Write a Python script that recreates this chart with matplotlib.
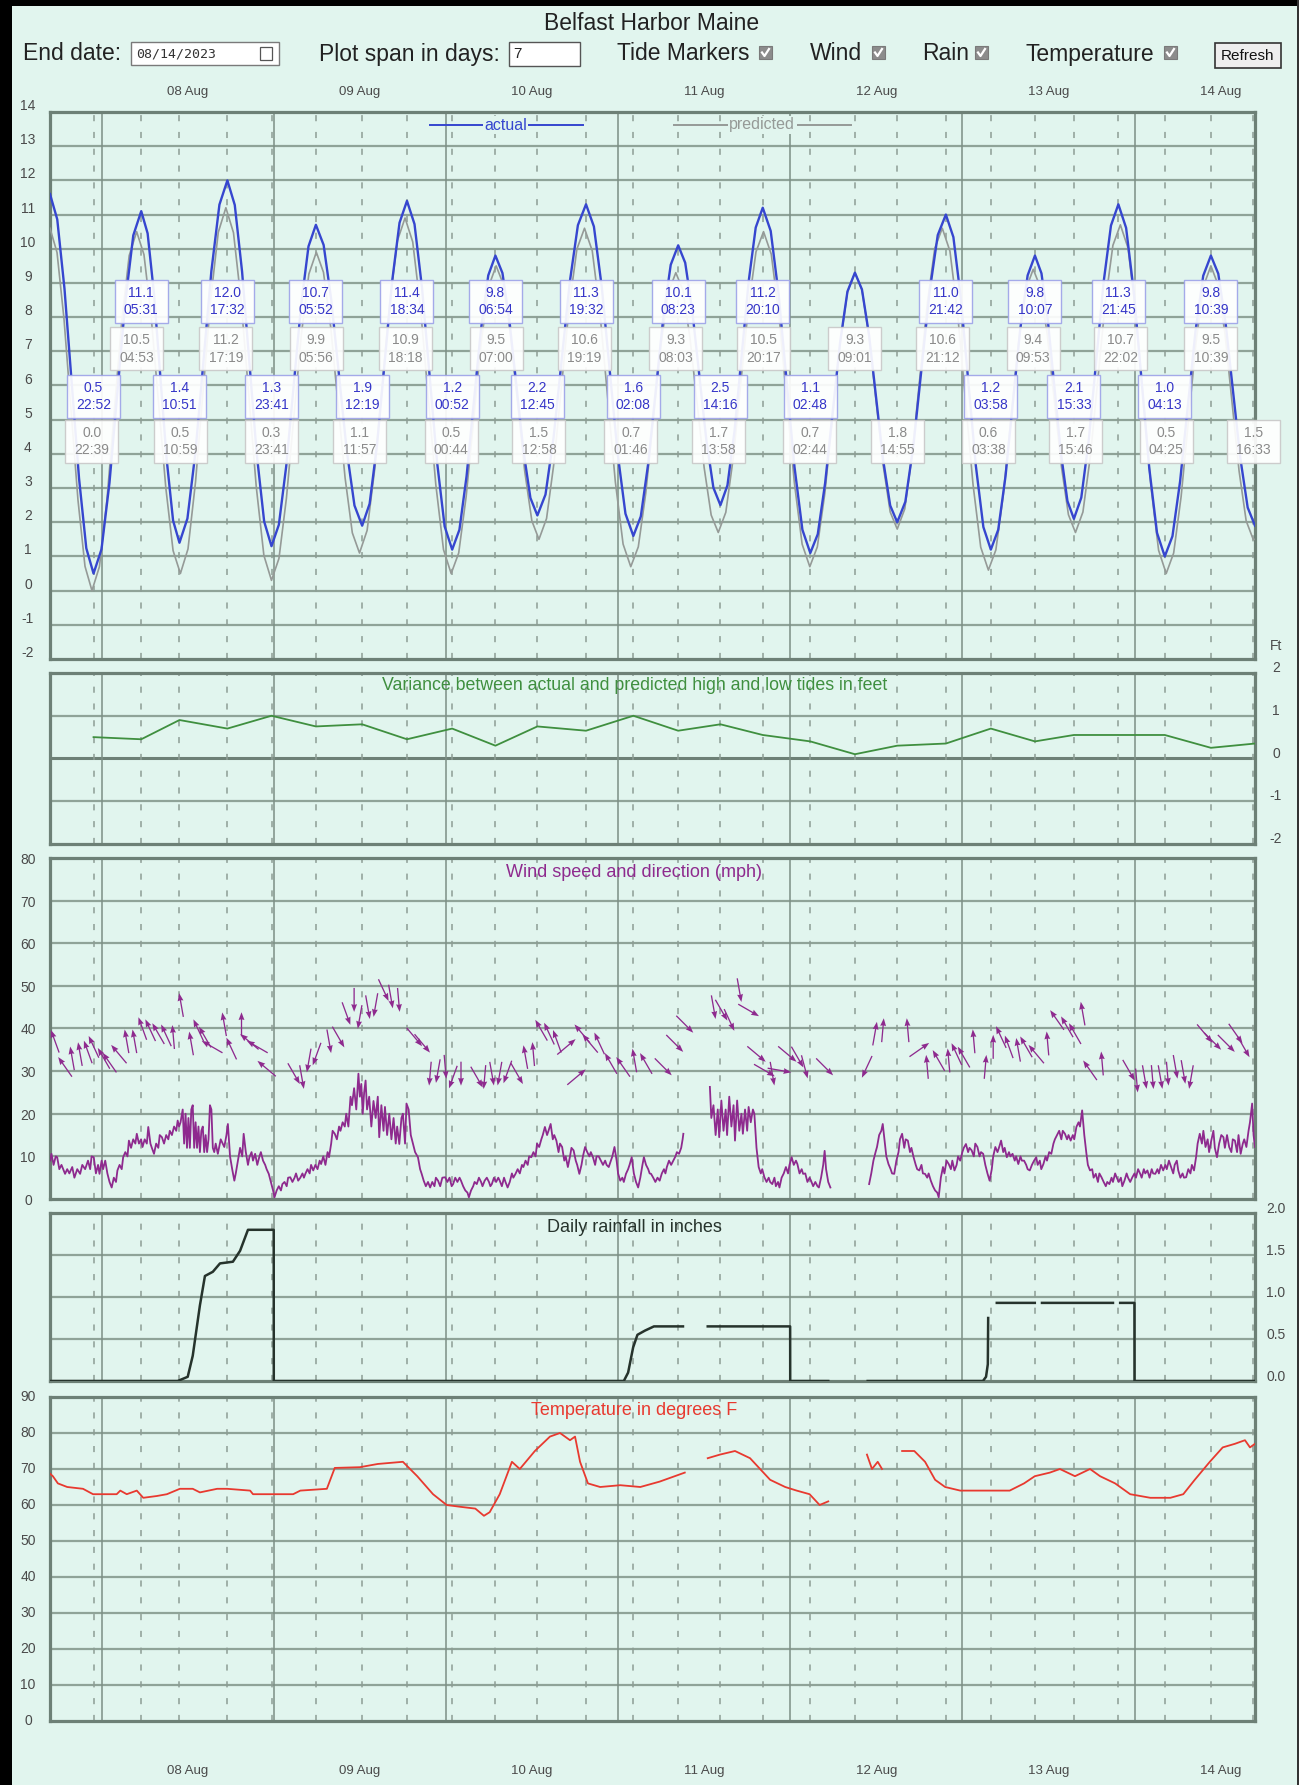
import numpy as np
import matplotlib
matplotlib.use('Agg')
import matplotlib.pyplot as plt
from matplotlib.patches import Rectangle
from matplotlib.lines import Line2D
from matplotlib import transforms

plt.rcParams['font.family'] = ['Liberation Sans', 'DejaVu Sans']

# ---- time axis: hours since 07 Aug 2023 00:00 ----
T0, T1 = 16.8, 184.8
date_labels = ['08 Aug', '09 Aug', '10 Aug', '11 Aug', '12 Aug', '13 Aug', '14 Aug']
date_days = [8, 9, 10, 11, 12, 13, 14]

# ---- tide extremes shown in the marker boxes ----
hi_act_val = [11.1, 12.0, 10.7, 11.4, 9.8, 11.3, 10.1, 11.2, 11.0, 9.8, 11.3, 9.8]
hi_act_time = ['05:31', '17:32', '05:52', '18:34', '06:54', '19:32', '08:23', '20:10', '21:42', '10:07', '21:45', '10:39']
hi_act_day = [8, 8, 9, 9, 10, 10, 11, 11, 12, 13, 13, 14]

lo_act_val = [0.5, 1.4, 1.3, 1.9, 1.2, 2.2, 1.6, 2.5, 1.1, 1.2, 2.1, 1.0]
lo_act_time = ['22:52', '10:51', '23:41', '12:19', '00:52', '12:45', '02:08', '14:16', '02:48', '03:58', '15:33', '04:13']
lo_act_day = [7, 8, 8, 9, 10, 10, 11, 11, 12, 13, 13, 14]

hi_pred_val = [10.5, 11.2, 9.9, 10.9, 9.5, 10.6, 9.3, 10.5, 9.3, 10.6, 9.4, 10.7, 9.5]
hi_pred_time = ['04:53', '17:19', '05:56', '18:18', '07:00', '19:19', '08:03', '20:17', '09:01', '21:12', '09:53', '22:02', '10:39']
hi_pred_day = [8, 8, 9, 9, 10, 10, 11, 11, 12, 12, 13, 13, 14]

lo_pred_val = [0.0, 0.5, 0.3, 1.1, 0.5, 1.5, 0.7, 1.7, 0.7, 1.8, 0.6, 1.7, 0.5, 1.5]
lo_pred_time = ['22:39', '10:59', '23:41', '11:57', '00:44', '12:58', '01:46', '13:58', '02:44', '14:55', '03:38', '15:46', '04:25', '16:33']
lo_pred_day = [7, 8, 8, 9, 10, 10, 11, 11, 12, 12, 13, 13, 14, 14]

# ---- tide water level (ft) ----
tide_act_t = [16.80, 17.81, 18.82, 19.84, 20.85, 21.86,
              22.87, 23.98, 25.09, 26.20, 27.30, 28.41,
              29.52, 30.41, 31.30, 32.19, 33.07, 33.96,
              34.85, 35.96, 37.08, 38.19, 39.30, 40.42,
              41.53, 42.56, 43.58, 44.61, 45.63, 46.66,
              47.68, 48.71, 49.74, 50.78, 51.81, 52.84,
              53.87, 54.95, 56.02, 57.10, 58.17, 59.25,
              60.32, 61.36, 62.40, 63.45, 64.49, 65.53,
              66.57, 67.62, 68.67, 69.72, 70.77, 71.82,
              72.87, 73.88, 74.88, 75.89, 76.89, 77.90,
              78.90, 79.88, 80.85, 81.83, 82.80, 83.78,
              84.75, 85.88, 87.01, 88.14, 89.27, 90.40,
              91.53, 92.63, 93.73, 94.83, 95.93, 97.03,
              98.13, 99.17, 100.21, 101.26, 102.30, 103.34,
              104.38, 105.36, 106.34, 107.32, 108.31, 109.29,
              110.27, 111.25, 112.24, 113.22, 114.20, 115.19,
              116.17, 117.28, 118.38, 119.49, 120.59, 121.70,
              122.80, 123.84, 124.87, 125.91, 126.95, 127.98,
              129.02, 130.00, 130.99, 131.97, 132.95, 133.94,
              134.92, 136.05, 137.18, 138.31, 139.44, 140.57,
              141.70, 142.75, 143.79, 144.84, 145.88, 146.93,
              147.97, 149.00, 150.02, 151.05, 152.07, 153.10,
              154.12, 155.03, 155.93, 156.84, 157.74, 158.65,
              159.55, 160.58, 161.62, 162.65, 163.68, 164.72,
              165.75, 166.83, 167.91, 168.99, 170.06, 171.14,
              172.22, 173.29, 174.36, 175.44, 176.51, 177.58,
              178.65, 179.68, 180.70, 181.73, 182.75, 183.78, 184.80]
tide_act_v = [11.6, 10.86, 8.83, 6.05, 3.28, 1.24,
              0.5, 1.21, 3.15, 5.8, 8.45, 10.39,
              11.1, 10.45, 8.68, 6.25, 3.83, 2.05,
              1.4, 2.11, 4.05, 6.7, 9.35, 11.29,
              12.0, 11.28, 9.33, 6.65, 3.98, 2.02,
              1.3, 1.93, 3.65, 6.0, 8.35, 10.07,
              10.7, 10.11, 8.5, 6.3, 4.1, 2.49,
              1.9, 2.54, 4.28, 6.65, 9.03, 10.76,
              11.4, 10.72, 8.85, 6.3, 3.75, 1.88,
              1.2, 1.78, 3.35, 5.5, 7.65, 9.22,
              9.8, 9.29, 7.9, 6.0, 4.1, 2.71,
              2.2, 2.81, 4.48, 6.75, 9.03, 10.69,
              11.3, 10.65, 8.88, 6.45, 4.03, 2.25,
              1.6, 2.17, 3.73, 5.85, 7.98, 9.53,
              10.1, 9.59, 8.2, 6.3, 4.4, 3.01,
              2.5, 3.08, 4.68, 6.85, 9.03, 10.62,
              11.2, 10.52, 8.68, 6.15, 3.63, 1.78,
              1.1, 1.65, 3.15, 5.2, 7.25, 8.75,
              9.3, 8.81, 7.48, 5.65, 3.83, 2.49,
              2.0, 2.6, 4.25, 6.5, 8.75, 10.4,
              11.0, 10.34, 8.55, 6.1, 3.65, 1.86,
              1.2, 1.78, 3.35, 5.5, 7.65, 9.22,
              9.8, 9.28, 7.88, 5.95, 4.03, 2.62,
              2.1, 2.72, 4.4, 6.7, 9.0, 10.68,
              11.3, 10.61, 8.73, 6.15, 3.58, 1.69,
              1.0, 1.59, 3.2, 5.4, 7.6, 9.21,
              9.8, 9.27, 7.83, 5.85, 3.88, 2.43, 1.9]

tide_pred_t = [16.80, 17.78, 18.75, 19.73, 20.70, 21.68,
               22.65, 23.69, 24.73, 25.77, 26.80, 27.84,
               28.88, 29.90, 30.91, 31.93, 32.95, 33.96,
               34.98, 36.04, 37.09, 38.15, 39.21, 40.26,
               41.32, 42.38, 43.44, 44.50, 45.56, 46.62,
               47.68, 48.72, 49.76, 50.81, 51.85, 52.89,
               53.93, 54.93, 55.94, 56.94, 57.94, 58.95,
               59.95, 61.01, 62.07, 63.13, 64.18, 65.24,
               66.30, 67.37, 68.44, 69.52, 70.59, 71.66,
               72.73, 73.78, 74.82, 75.87, 76.91, 77.96,
               79.00, 80.00, 80.99, 81.99, 82.98, 83.98,
               84.97, 86.03, 87.09, 88.15, 89.20, 90.26,
               91.32, 92.40, 93.47, 94.55, 95.62, 96.70,
               97.77, 98.82, 99.86, 100.91, 101.96, 103.00,
               104.05, 105.04, 106.02, 107.01, 108.00, 108.98,
               109.97, 111.02, 112.07, 113.13, 114.18, 115.23,
               116.28, 117.36, 118.43, 119.51, 120.58, 121.66,
               122.73, 123.78, 124.83, 125.88, 126.92, 127.97,
               129.02, 130.00, 130.99, 131.97, 132.95, 133.94,
               134.92, 135.97, 137.01, 138.06, 139.11, 140.15,
               141.20, 142.27, 143.34, 144.42, 145.49, 146.56,
               147.63, 148.67, 149.71, 150.76, 151.80, 152.84,
               153.88, 154.86, 155.84, 156.83, 157.81, 158.79,
               159.77, 160.81, 161.86, 162.90, 163.94, 164.99,
               166.03, 167.10, 168.16, 169.23, 170.29, 171.36,
               172.42, 173.46, 174.50, 175.54, 176.57, 177.61,
               178.65, 179.63, 180.62, 181.60, 182.58, 183.57, 184.55, 184.80]
tide_pred_v = [10.6, 9.89, 7.95, 5.3, 2.65, 0.71,
               0.0, 0.7, 2.63, 5.25, 7.88, 9.8,
               10.5, 9.83, 8.0, 5.5, 3.0, 1.17,
               0.5, 1.22, 3.18, 5.85, 8.53, 10.48,
               11.2, 10.47, 8.48, 5.75, 3.03, 1.03,
               0.3, 0.94, 2.7, 5.1, 7.5, 9.26,
               9.9, 9.31, 7.7, 5.5, 3.3, 1.69,
               1.1, 1.76, 3.55, 6.0, 8.45, 10.24,
               10.9, 10.2, 8.3, 5.7, 3.1, 1.2,
               0.5, 1.1, 2.75, 5.0, 7.25, 8.9,
               9.5, 8.96, 7.5, 5.5, 3.5, 2.04,
               1.5, 2.11, 3.78, 6.05, 8.33, 9.99,
               10.6, 9.94, 8.13, 5.65, 3.18, 1.36,
               0.7, 1.28, 2.85, 5.0, 7.15, 8.72,
               9.3, 8.79, 7.4, 5.5, 3.6, 2.21,
               1.7, 2.29, 3.9, 6.1, 8.3, 9.91,
               10.5, 9.84, 8.05, 5.6, 3.15, 1.36,
               0.7, 1.28, 2.85, 5.0, 7.15, 8.72,
               9.3, 8.8, 7.43, 5.55, 3.68, 2.3,
               1.8, 2.39, 4.0, 6.2, 8.4, 10.01,
               10.6, 9.93, 8.1, 5.6, 3.1, 1.27,
               0.6, 1.19, 2.8, 5.0, 7.2, 8.81,
               9.4, 8.88, 7.48, 5.55, 3.63, 2.22,
               1.7, 2.3, 3.95, 6.2, 8.45, 10.1,
               10.7, 10.02, 8.15, 5.6, 3.05, 1.18,
               0.5, 1.1, 2.75, 5.0, 7.25, 8.9,
               9.5, 8.96, 7.5, 5.5, 3.5, 2.04, 1.5, 1.5]

# ---- variance between actual and predicted extremes (ft) ----
var_t = [22.87, 29.52, 34.85, 41.53, 47.68, 53.87, 60.32, 66.57, 72.87, 78.90,
         84.75, 91.53, 98.13, 104.38, 110.27, 116.17, 122.80, 129.02, 134.92,
         141.70, 147.97, 154.12, 159.55, 165.75, 172.22, 178.65, 184.80]
var_v = [0.5, 0.45, 0.9, 0.7, 1.0, 0.75, 0.8, 0.45, 0.7, 0.3,
         0.75, 0.65, 1.0, 0.65, 0.8, 0.55, 0.4, 0.1, 0.3,
         0.35, 0.7, 0.4, 0.55, 0.55, 0.55, 0.25, 0.35]

# ---- wind speed (mph) as (hour, mph); nan marks missing data ----
wind_obs = [
    (16.8, 9), (17.0, 10.6), (17.3, 8), (17.6, 10), (17.8, 9.8), (18.1, 7), (18.4, 8), (18.9, 5.9),
    (19.2, 7), (19.5, 6), (19.9, 7.5), (20.2, 5), (20.6, 7), (21.0, 5.9), (21.3, 8), (21.7, 7),
    (22.1, 9.0), (22.4, 7), (22.6, 10), (22.9, 9.8), (23.2, 6), (23.5, 8), (23.7, 5.9), (24.0, 9),
    (24.2, 7), (24.5, 9.0), (24.8, 6), (25.1, 4), (25.4, 2.7), (25.7, 5), (26.0, 4), (26.2, 6.7),
    (26.5, 8), (26.8, 7), (27.0, 9.8), (27.3, 11), (27.6, 10), (27.8, 13.7), (28.1, 12), (28.4, 14),
    (28.7, 13), (28.9, 15.3), (29.2, 13), (29.5, 14), (29.7, 12.2), (30.0, 14), (30.3, 13), (30.5, 16.9),
    (30.8, 13), (31.0, 12), (31.3, 10.6), (31.6, 13), (31.9, 12), (32.1, 15), (32.4, 14.5), (32.7, 13),
    (33.0, 15), (33.3, 14), (33.5, 16.0), (33.8, 15), (34.1, 17), (34.4, 16), (34.6, 18.4), (34.8, 17),
    (35.0, 18), (35.3, 21), (35.5, 13), (35.7, 20), (35.9, 12), (36.1, 19), (36.3, 12), (36.5, 21),
    (36.7, 22), (36.9, 12), (37.1, 18), (37.3, 12), (37.5, 17), (37.7, 11), (37.9, 16), (38.1, 17),
    (38.3, 11), (38.5, 15), (38.7, 11), (38.9, 14), (39.1, 22), (39.3, 21), (39.5, 12), (39.7, 11),
    (39.9, 13), (40.2, 10.6), (40.6, 14), (41.1, 12.2), (41.4, 15), (41.6, 17.6), (41.9, 10), (42.2, 7),
    (42.5, 4.3), (42.7, 6), (43.0, 9), (43.3, 12), (43.6, 10), (43.8, 15.3), (44.1, 11), (44.4, 8),
    (44.6, 9.8), (44.9, 11), (45.1, 9), (45.4, 10.6), (45.7, 8), (46.0, 10), (46.2, 11), (46.5, 9.0),
    (46.8, 8), (47.0, 7), (47.3, 5.9), (47.6, 4), (47.9, 2), (48.1, 0.4), (48.4, 2), (48.7, 3),
    (49.0, 2), (49.2, 3.5), (49.5, 4), (49.8, 3), (50.0, 5), (50.3, 5.1), (50.6, 4), (50.9, 5),
    (51.1, 6), (51.4, 4.3), (51.7, 5), (52.0, 6), (52.2, 5), (52.4, 5.9), (52.7, 7), (53.0, 6),
    (53.2, 8), (53.5, 6.7), (53.8, 8), (54.1, 7), (54.4, 9), (54.6, 8.2), (54.9, 10), (55.2, 8),
    (55.5, 11), (55.7, 9.8), (56.0, 13), (56.2, 16), (56.5, 15.3), (56.8, 14), (57.1, 17), (57.3, 16.0),
    (57.6, 18), (57.9, 17), (58.1, 20), (58.4, 17), (58.7, 24), (58.9, 22), (59.2, 26), (59.5, 21),
    (59.8, 29.4), (60.0, 24), (60.2, 27), (60.4, 20), (60.6, 25), (60.8, 27.8), (61.0, 21), (61.3, 24),
    (61.6, 17), (61.9, 23), (62.2, 19), (62.5, 24), (62.7, 14.5), (63.0, 22), (63.3, 16), (63.5, 21.6),
    (63.8, 15), (64.1, 20), (64.4, 14), (64.7, 19), (65.0, 13), (65.2, 17), (65.5, 12.9), (65.8, 19),
    (66.0, 20), (66.3, 13), (66.5, 22.4), (66.8, 21), (67.1, 15), (67.3, 13.7), (67.7, 11), (68.1, 9.8),
    (68.4, 7), (68.6, 6), (68.9, 4.3), (69.2, 3), (69.5, 4), (69.8, 2.7), (70.1, 4), (70.4, 3),
    (70.6, 5), (70.9, 4.3), (71.2, 3), (71.5, 5), (71.9, 5.1), (72.2, 4), (72.5, 5), (72.8, 3),
    (73.0, 3.5), (73.3, 5), (73.6, 4), (73.9, 5), (74.1, 4.3), (74.4, 3), (74.7, 2), (75.0, 1.5),
    (75.2, 0.4), (75.5, 2), (75.8, 3), (76.0, 4), (76.3, 3.5), (76.6, 5), (76.9, 4), (77.1, 3),
    (77.4, 4.3), (77.7, 5), (78.0, 4), (78.2, 3), (78.4, 3.5), (78.7, 5), (79.0, 4), (79.3, 5),
    (79.5, 4.3), (79.8, 3), (80.1, 5), (80.3, 4), (80.6, 2.7), (80.9, 4), (81.2, 6), (81.4, 5),
    (81.7, 5.9), (82.0, 7), (82.3, 6), (82.6, 8), (82.8, 7.5), (83.1, 9), (83.4, 8), (83.6, 10),
    (83.9, 9.8), (84.2, 11), (84.5, 10), (84.7, 13), (85.0, 12.2), (85.3, 14), (85.5, 15), (85.8, 16.9),
    (86.1, 15), (86.3, 16), (86.6, 17.6), (86.9, 14), (87.1, 15), (87.4, 13.7), (87.7, 11), (87.9, 13),
    (88.2, 12.2), (88.5, 9), (88.7, 10), (89.0, 7.5), (89.3, 10), (89.5, 12), (89.8, 11.4), (90.1, 9),
    (90.3, 8), (90.6, 5.9), (90.9, 8), (91.1, 10), (91.4, 12.2), (91.7, 11), (92.0, 10), (92.2, 11),
    (92.5, 9.8), (92.8, 8), (93.0, 10), (93.3, 10), (93.6, 9.0), (93.9, 8), (94.2, 9), (94.4, 8),
    (94.7, 7.5), (95.0, 9), (95.2, 10), (95.5, 12.2), (95.8, 9), (96.0, 6), (96.3, 4.3), (96.6, 5),
    (96.8, 4), (97.1, 5.9), (97.4, 7), (97.6, 8), (97.9, 9.8), (98.2, 6), (98.5, 4), (98.8, 2.7),
    (99.1, 5), (99.4, 8), (99.6, 9.8), (99.9, 8), (100.2, 7), (100.4, 6), (100.6, 5.9), (100.9, 5),
    (101.2, 4), (101.5, 5), (101.8, 4.3), (102.1, 6), (102.4, 7), (102.6, 6), (102.8, 7.5), (103.1, 9),
    (103.4, 8), (103.7, 9.0), (104.0, 10), (104.2, 11), (104.5, 10.6), (104.8, 12), (105.0, 14), (105.1, 15.3),
    (106.5, np.nan),
    (108.8, 26.3), (109.0, 19), (109.3, 22), (109.6, 15), (109.9, 21), (110.1, 14.5), (110.4, 23.1), (110.7, 16),
    (111.0, 21), (111.2, 15), (111.5, 24), (111.8, 17), (112.1, 22), (112.3, 13.7), (112.6, 23.1), (112.9, 16),
    (113.2, 20), (113.4, 15.3), (113.7, 21), (114.0, 16), (114.2, 21.6), (114.5, 18), (114.8, 21), (115.0, 20),
    (115.3, 12), (115.6, 7.5), (115.9, 6), (116.1, 7), (116.4, 5.1), (116.7, 4), (117.0, 5), (117.2, 4),
    (117.5, 3.5), (117.8, 5), (118.0, 3), (118.3, 4), (118.5, 2.7), (118.8, 5), (119.1, 6), (119.4, 7.5),
    (119.7, 6), (119.9, 8), (120.2, 9.8), (120.5, 8), (120.8, 9), (121.0, 8.2), (121.3, 6), (121.6, 7),
    (121.8, 5.9), (122.1, 6), (122.4, 4), (122.7, 5), (122.9, 4.3), (123.2, 3), (123.5, 4), (123.8, 3),
    (124.0, 2.7), (124.3, 5), (124.6, 8), (124.8, 11.3), (125.0, 7), (125.3, 4), (125.6, 2.7),
    (128.0, np.nan),
    (131.0, 3.5), (131.3, 6), (131.6, 9), (131.9, 11), (132.1, 12.2), (132.4, 15), (132.7, 16), (132.9, 17.6),
    (133.2, 13), (133.4, 10), (133.7, 8.2), (134.0, 7), (134.2, 6), (134.5, 5.9), (134.8, 9), (135.1, 11),
    (135.3, 14), (135.6, 15.3), (135.9, 12), (136.1, 14), (136.4, 13.7), (136.7, 11), (136.9, 12), (137.2, 9.8),
    (137.5, 8), (137.7, 7), (138.0, 6.7), (138.3, 8), (138.5, 6), (138.8, 5.9), (139.1, 5), (139.3, 6),
    (139.6, 4.3), (139.9, 3), (140.2, 2), (140.5, 1.5), (140.7, 0.4), (141.0, 5), (141.3, 7.5), (141.5, 6),
    (141.8, 9), (142.1, 8.2), (142.4, 7), (142.6, 9), (142.9, 6.7), (143.2, 8), (143.4, 10), (143.7, 9.0),
    (144.0, 11), (144.2, 12), (144.5, 12.9), (144.8, 11), (145.0, 12), (145.3, 11.4), (145.6, 10), (145.8, 13),
    (146.1, 12.2), (146.4, 10), (146.6, 11), (146.9, 10.6), (147.2, 8), (147.5, 6), (147.8, 4.3), (148.1, 7),
    (148.3, 10), (148.6, 12.2), (148.9, 11), (149.1, 12), (149.4, 13.7), (149.7, 11), (149.9, 12), (150.2, 9.8),
    (150.5, 11), (150.7, 10), (151.0, 10.6), (151.3, 9), (151.5, 10), (151.8, 8.2), (152.1, 10), (152.3, 9),
    (152.6, 9.0), (152.9, 8), (153.1, 7), (153.4, 6.7), (153.7, 8), (154.0, 9), (154.3, 9.8), (154.5, 8),
    (154.8, 9), (155.0, 7), (155.3, 8.2), (155.6, 10), (155.8, 9), (156.1, 11), (156.4, 10.6), (156.7, 13),
    (156.9, 14), (157.2, 15), (157.5, 16.0), (157.8, 14), (158.0, 16), (158.3, 15.3), (158.6, 14), (158.8, 15),
    (159.1, 13.7), (159.4, 15), (159.6, 14), (159.9, 16.9), (160.2, 18), (160.4, 17), (160.7, 20.8), (161.0, 15),
    (161.3, 10.6), (161.5, 8), (161.8, 6.7), (162.1, 7), (162.3, 5), (162.6, 5.9), (162.9, 4), (163.1, 6),
    (163.4, 5.1), (163.7, 4), (164.0, 3), (164.2, 4), (164.5, 3.5), (164.8, 5), (165.0, 4), (165.3, 6),
    (165.5, 5.1), (165.8, 4), (166.1, 5), (166.3, 3), (166.6, 4.3), (166.9, 6), (167.1, 5), (167.4, 4),
    (167.7, 5.1), (168.0, 6), (168.2, 5), (168.5, 7), (168.8, 5.9), (169.0, 5), (169.3, 7), (169.5, 6),
    (169.8, 6.7), (170.1, 5), (170.4, 7), (170.6, 6), (170.9, 5.9), (171.2, 7), (171.4, 6), (171.7, 8),
    (172.0, 6.7), (172.3, 8), (172.5, 7), (172.8, 9), (173.1, 7.5), (173.4, 6), (173.6, 8), (173.9, 9),
    (174.1, 6.7), (174.4, 5), (174.7, 6), (174.9, 5), (175.2, 5.1), (175.5, 7), (175.8, 6), (176.0, 8),
    (176.3, 6.7), (176.6, 10), (176.8, 13), (177.1, 15.3), (177.4, 13), (177.6, 16), (177.9, 12.2), (178.2, 14),
    (178.4, 11), (178.7, 13.7), (179.0, 16), (179.2, 12), (179.5, 9.8), (179.8, 13), (180.1, 15), (180.4, 14.5),
    (180.6, 12), (180.9, 15), (181.2, 12.2), (181.5, 11), (181.7, 14), (182.0, 13.7), (182.3, 11), (182.5, 15),
    (182.8, 10.6), (183.1, 13), (183.3, 14), (183.6, 12.2), (183.9, 16), (184.1, 18), (184.4, 22.4), (184.6, 15),
    (184.8, 12.2)]
wind_t = [p[0] for p in wind_obs]
wind_v = [p[1] for p in wind_obs]

# ---- wind direction arrows: time, plotted height (mph), pointing angle (deg) ----
arrow_t = [17.5, 18.9, 19.9, 21.0, 22.1, 22.9, 24.3, 25.1, 26.4, 27.5, 28.6, 29.7, 30.8, 31.9,
           33.0, 34.0, 35.1, 36.5, 37.5, 38.4, 39.4, 41.1, 42.1, 43.5, 44.6, 45.7, 47.0,
           50.8, 51.9, 52.9, 54.0, 55.7, 57.0, 58.1, 59.2, 60.0, 61.1, 62.2, 63.3, 64.3, 65.4,
           67.6, 68.7, 69.8, 70.9, 71.9, 73.0, 74.1, 76.3, 77.4, 78.4, 79.5, 80.6, 81.9,
           83.1, 84.2, 85.3, 86.4, 87.5, 88.8, 90.2, 91.0, 92.1, 93.4, 95.0, 96.7, 98.3, 99.9,
           102.3, 103.9, 105.3, 109.3, 110.4, 111.5, 112.9, 114.2, 115.3, 116.4, 117.5, 118.5,
           119.6, 121.0, 122.0, 124.8,
           130.7, 131.8, 132.9, 136.4, 138.0, 139.1, 140.7, 142.1, 143.2, 144.2, 145.6, 147.2,
           148.3, 149.4, 150.5, 151.8, 152.9, 154.3, 155.9, 157.2, 158.6, 159.7, 160.8, 161.8,
           163.5, 167.2, 168.3, 169.4, 170.5, 171.6, 172.6, 173.7, 174.8, 175.9, 177.8, 178.9,
           180.8, 182.1, 183.2]
arrow_y = [37.0, 31.0, 33.0, 34.0, 34.5, 35.7, 33.0, 32.0, 34.0, 37.0, 37.0, 40.0, 39.6, 38.8,
           38.4, 38.0, 45.5, 36.5, 39.6, 38.0, 35.7, 41.0, 35.3, 41.0, 36.9, 35.7, 30.6,
           29.4, 28.6, 32.5, 34.0, 37.0, 38.0, 43.5, 46.7, 42.7, 45.0, 45.5, 49.0, 47.5, 46.7,
           38.0, 36.5, 29.4, 30.0, 31.0, 28.6, 29.4, 28.6, 28.6, 29.4, 29.4, 29.8, 29.4,
           33.3, 34.0, 39.6, 38.8, 37.0, 35.7, 28.6, 38.8, 36.5, 36.5, 31.8, 31.0, 32.5, 31.8,
           31.0, 36.5, 41.0, 45.0, 44.3, 42.0, 49.0, 44.3, 34.0, 30.2, 29.4, 30.2,
           34.0, 33.3, 31.0, 31.0,
           31.0, 38.8, 39.6, 39.6, 35.0, 31.0, 32.5, 32.5, 34.0, 33.3, 37.0, 31.0,
           35.7, 38.0, 35.7, 35.0, 35.7, 34.0, 36.5, 42.0, 40.4, 38.8, 43.5, 30.2,
           31.8, 30.2, 27.8, 28.6, 28.6, 28.6, 29.4, 31.0, 29.8, 28.6, 38.8, 37.0,
           36.5, 38.8, 35.7]
arrow_deg = [110, 125, 100, 100, 110, 115, 120, 125, 130, 100, 100, 110, 115, 120,
             115, 95, 100, 100, 115, 120, 150, 100, 115, 90, 140, 150, 140,
             -60, -80, -100, -110, -80, -60, -70, -90, -100, -80, -100, -65, -80, -85,
             -50, -50, -95, -100, -85, -110, -90, -60, -95, -80, -100, -110, -60,
             100, 95, 120, 115, 110, 40, 40, 130, 130, 115, 120, 125, 100, 120,
             -45, -45, -45, -80, -60, -65, -80, -30, -40, -30, -80, -10,
             -40, -60, -75, -45,
             -115, 80, 85, 95, 35, 95, 120, 95, 115, 120, 95, 85,
             90, 115, 110, 100, 120, 130, 95, 125, 120, 120, 100, 125,
             95, -60, -85, -80, -85, -80, -85, -80, -80, -100, -50, -45,
             -45, -55, -60]

# ---- daily rainfall, cumulative (in) ----
rain_t = [16.8, 34.6, 36.0, 36.7, 37.7, 38.4, 39.5, 40.5, 42.3, 43.3, 44.4, 47.99, 48.0,
          96.8, 97.4, 98.1, 98.7, 99.75, 101.0, 105.05, 107.0, 108.5, 119.99, 120.0, 125.3,
          128.0, 130.8, 146.87, 147.3, 147.55, 147.6, 148.2, 148.8, 154.1, 154.6, 155.1,
          165.0, 165.5, 166.0, 167.99, 168.0, 184.8]
rain_v = [0, 0, 0.05, 0.3, 0.9, 1.25, 1.3, 1.4, 1.42, 1.55, 1.8, 1.8, 0,
          0, 0.1, 0.4, 0.55, 0.6, 0.65, 0.65, np.nan, 0.65, 0.65, 0, 0,
          np.nan, 0, 0, 0.05, 0.2, 0.75, np.nan, 0.93, 0.93, np.nan, 0.93,
          0.93, np.nan, 0.93, 0.93, 0, 0]

# ---- air temperature (deg F) ----
temp_t = [16.8, 17.2, 17.9, 19.2, 21.4, 22.8, 26.1, 26.6, 27.5, 28.9, 29.8, 31.7, 33.1, 34.9,
          36.7, 37.7, 40.1, 41.5, 44.7, 45.1, 47.9, 50.7, 51.7, 55.4, 56.5, 60.0, 62.5, 66.0,
          68.0, 70.2, 72.1, 74.0, 76.1, 77.3, 78.1, 79.5, 81.2, 82.3, 84.4, 86.5, 87.9, 89.3,
          90.0, 90.7, 91.8, 93.5, 96.3, 99.1, 101.8, 105.3, 107.0,
          108.5, 110.2, 112.3, 114.4, 115.8, 117.2, 119.3, 120.9, 122.7, 124.1, 125.3, 128.0,
          130.7, 131.4, 132.2, 132.8, 134.0,
          135.6, 137.3, 138.8, 140.2, 141.6, 143.7, 147.8, 150.6, 152.6, 154.1, 156.2, 157.6,
          159.7, 161.8, 163.2, 165.3, 167.4, 170.2, 173.0, 174.8, 176.4, 178.5, 180.3, 182.0,
          183.4, 184.1, 184.8]
temp_v = [68.7, 68.0, 66.0, 65.0, 64.5, 63.0, 63.0, 64.0, 63.0, 64.0, 62.0, 62.5, 63.0, 64.5,
          64.5, 63.5, 64.5, 64.5, 64.0, 63.0, 63.0, 63.0, 64.0, 64.5, 70.3, 70.5, 71.4, 72.0,
          68.0, 63.0, 60.0, 59.5, 59.0, 57.0, 58.0, 63.0, 72.0, 70.0, 75.0, 79.0, 80.0, 78.0,
          79.0, 72.0, 66.0, 65.0, 65.5, 65.0, 66.5, 69.0, np.nan,
          73.0, 74.0, 75.0, 73.0, 70.0, 67.0, 65.0, 64.0, 63.0, 60.0, 61.0, np.nan,
          74.0, 70.0, 72.0, 70.0, np.nan,
          75.0, 75.0, 72.0, 67.0, 65.0, 64.0, 64.0, 64.0, 66.0, 68.0, 69.0, 70.0,
          68.0, 70.0, 68.0, 66.0, 63.0, 62.0, 62.0, 63.0, 67.0, 72.0, 76.0, 77.0,
          78.0, 76.0, 77.0]

# ---- colours ----
BG = '#e1f5ee'
GRID = '#8fa398'
FRAME = '#6d8076'
DAYLINE = '#7c8f85'
DASH = '#8d9d95'
LBL = '#4a4a4a'
C_ACT = '#3646cf'
C_PRED = '#959a97'
C_VAR = '#3f8f3f'
C_WIND = '#8e2a8e'
C_RAIN = '#26332c'
C_TEMP = '#e8392f'

W, H = 1303, 1785
X0, X1 = 50, 1255
PXH = (X1 - X0) / (T1 - T0)


def hours(day, hhmm):
    h, m = hhmm.split(':')
    return (day - 7) * 24 + int(h) + int(m) / 60.0


def fx(x):
    return x / W


def fy(y):
    return 1 - y / H


hi_act_t = [hours(d, s) for d, s in zip(hi_act_day, hi_act_time)]
lo_act_t = [hours(d, s) for d, s in zip(lo_act_day, lo_act_time)]
hi_pred_t = [hours(d, s) for d, s in zip(hi_pred_day, hi_pred_time)]
lo_pred_t = [hours(d, s) for d, s in zip(lo_pred_day, lo_pred_time)]

# tide markers: actual extremes, plus predicted ones with no actual reading
marks = hi_act_t + lo_act_t
for t in hi_pred_t + lo_pred_t:
    if min(abs(t - m) for m in hi_act_t + lo_act_t) > 1.5:
        marks.append(t)
day_lines = [24 * k for k in range(1, 8)]

fig = plt.figure(figsize=(W / 100, H / 100), dpi=100, facecolor=BG)


def panel(y0, y1, ylo, yhi, grid_vals, labels, side, dy, thick_zero=False):
    ax = fig.add_axes([fx(X0), fy(y1), (X1 - X0) / W, (y1 - y0) / H])
    ax.set_facecolor(BG)
    ax.set_xlim(T0, T1)
    ax.set_ylim(ylo, yhi)
    ax.set_xticks([])
    ax.set_yticks([])
    for v in grid_vals:
        if thick_zero and v == 0:
            ax.axhline(v, color=FRAME, lw=2.2, zorder=1)
        else:
            ax.axhline(v, color=GRID, lw=1.6, zorder=1)
    for d in day_lines:
        ax.axvline(d, color=DAYLINE, lw=1.1, zorder=1)
    for m in marks:
        ax.axvline(m, color=DASH, lw=1.1, ls=(0, (4, 7)), zorder=1)
    for s in ax.spines.values():
        s.set_color(FRAME)
        s.set_linewidth(2.3)
    xl = 28 if side == 'left' else 1276
    tr = transforms.blended_transform_factory(fig.transFigure, ax.transData)
    tr = tr + transforms.ScaledTranslation(0, dy / 100, fig.dpi_scale_trans)
    for v, s in labels:
        ax.text(fx(xl), v, s, transform=tr, ha='center', va='center',
                fontsize=10, color=LBL, clip_on=False)
    return ax


# ---------------- tide panel ----------------
ax = panel(112, 659, -2, 14, range(-1, 14),
           [(v, str(v)) for v in range(14, -3, -1)], 'left', 6)
ax.plot(tide_pred_t, tide_pred_v, color=C_PRED, lw=1.2, zorder=3)
ax.plot(tide_act_t, tide_act_v, color=C_ACT, lw=1.7, zorder=4)

box_w = 53 / PXH
box_h = 43 / ((659 - 112) / 16)
rows = [(hi_act_t, hi_act_val, hi_act_time, 8.46, '#3535c8', '#9ea3e8'),
        (hi_pred_t, hi_pred_val, hi_pred_time, 7.07, '#8a8a8a', '#c9c9c9'),
        (lo_act_t, lo_act_val, lo_act_time, 5.68, '#3535c8', '#9ea3e8'),
        (lo_pred_t, lo_pred_val, lo_pred_time, 4.37, '#8a8a8a', '#c9c9c9')]
for ts, vals, times, yc, tc, ec in rows:
    for t, v, s in zip(ts, vals, times):
        ax.add_patch(Rectangle((t - box_w / 2, yc - box_h / 2), box_w, box_h,
                               facecolor='white', edgecolor=ec, lw=1.0,
                               alpha=0.92, zorder=5, clip_on=False))
        ax.text(t, yc, f'{v:.1f}\n{s}', ha='center', va='center', fontsize=10,
                color=tc, linespacing=1.3, zorder=6, clip_on=False)

# legend
ly = (659 - 125) / (659 - 112)
ax.plot([0.315, 0.442], [ly, ly], transform=ax.transAxes, color=C_ACT, lw=1.4, zorder=7)
ax.text(0.378, ly, 'actual', transform=ax.transAxes, ha='center', va='center',
        fontsize=11.5, color=C_ACT, zorder=8,
        bbox=dict(facecolor=BG, edgecolor='none', pad=1))
ax.plot([0.518, 0.665], [ly, ly], transform=ax.transAxes, color=C_PRED, lw=1.4, zorder=7)
ax.text(0.591, ly, 'predicted', transform=ax.transAxes, ha='center', va='center',
        fontsize=11.5, color=C_PRED, zorder=8,
        bbox=dict(facecolor=BG, edgecolor='none', pad=1))

# date labels above and below the stack
trd = transforms.blended_transform_factory(ax.transData, fig.transFigure)
for d, s in zip(date_days, date_labels):
    t = (d - 7) * 24 + 12
    ax.text(t, fy(92), s, transform=trd, ha='center', va='center', fontsize=9.5,
            color=LBL, clip_on=False)
    ax.text(t, fy(1771), s, transform=trd, ha='center', va='center', fontsize=9.5,
            color=LBL, clip_on=False)

fig.text(fx(1276), fy(646), 'Ft', ha='center', va='center', fontsize=10, color=LBL)

# ---------------- variance panel ----------------
ax = panel(673, 844, -2, 2, [-1, 0, 1],
           [(2, '2'), (1, '1'), (0, '0'), (-1, '-1'), (-2, '-2')], 'right', 5,
           thick_zero=True)
ax.plot(var_t, var_v, color=C_VAR, lw=1.3, zorder=3)
ax.text(0.485, 0.925, 'Variance between actual and predicted high and low tides in feet',
        transform=ax.transAxes, ha='center', va='center', fontsize=12.8, color=C_VAR)

# ---------------- wind panel ----------------
ax = panel(858, 1199, 0, 80, range(10, 80, 10),
           [(v, str(v)) for v in range(80, -1, -10)], 'left', -2)
ax.plot(wind_t, wind_v, color=C_WIND, lw=1.3, zorder=3)
ang = np.radians(arrow_deg)
ax.quiver(arrow_t, arrow_y, 24 * np.cos(ang), 24 * np.sin(ang), angles='uv',
          pivot='middle', units='dots', scale_units='dots', scale=1, width=1.3,
          headwidth=4.5, headlength=6, headaxislength=5.5, color=C_WIND, zorder=4)
ax.text(0.485, 0.958, 'Wind speed and direction (mph)', transform=ax.transAxes,
        ha='center', va='center', fontsize=13, color=C_WIND)

# ---------------- rain panel ----------------
ax = panel(1213, 1381, 0, 2, [0.5, 1.0, 1.5],
           [(2.0, '2.0'), (1.5, '1.5'), (1.0, '1.0'), (0.5, '0.5'), (0.0, '0.0')], 'right', 4)
ax.plot(rain_t, rain_v, color=C_RAIN, lw=1.8, zorder=3)
ax.text(0.485, 0.915, 'Daily rainfall in inches', transform=ax.transAxes,
        ha='center', va='center', fontsize=13, color=C_RAIN)

# ---------------- temperature panel ----------------
ax = panel(1397, 1721, 0, 90, range(10, 90, 10),
           [(v, str(v)) for v in range(90, -1, -10)], 'left', 0)
ax.plot(temp_t, temp_v, color=C_TEMP, lw=1.3, zorder=3)
ax.text(0.485, 0.957, 'Temperature in degrees F', transform=ax.transAxes,
        ha='center', va='center', fontsize=13, color=C_TEMP)


# ---------------- page header and border ----------------
def box(x0, y0, x1, y1, fc, ec, lw=1.0, z=2):
    fig.add_artist(Rectangle((fx(x0), fy(y1)), (x1 - x0) / W, (y1 - y0) / H,
                             transform=fig.transFigure, facecolor=fc, edgecolor=ec,
                             lw=lw, zorder=z))


def checkbox(x0, yc):
    box(x0, yc - 7, x0 + 13, yc + 6, '#8c8c8c', '#7a7a7a', 0.8)
    fig.add_artist(Line2D([fx(x0 + 3), fx(x0 + 5.5), fx(x0 + 10)],
                          [fy(yc - 0.5), fy(yc + 3), fy(yc - 4)],
                          transform=fig.transFigure, color='white', lw=1.6, zorder=3))


HDR = 16.5
fig.text(fx(652), fy(23), 'Belfast Harbor Maine', ha='center', va='center',
         fontsize=HDR, color='#222222')
hy = fy(54)
fig.text(fx(23), hy, 'End date:', ha='left', va='center', fontsize=HDR, color='#222222')
box(131, 42, 279, 65, 'white', '#7a7a7a')
fig.text(fx(136), hy, '08/14/2023', ha='left', va='center', fontsize=9.5,
         family='DejaVu Sans Mono', color='#333333', zorder=3)
box(260, 47, 272, 60, 'white', '#555555', 0.9, 3)
fig.text(fx(319), hy, 'Plot span in days:', ha='left', va='center', fontsize=HDR,
         color='#222222')
box(509, 42, 580, 66, 'white', '#555555')
fig.text(fx(513), hy, '7', ha='left', va='center', fontsize=11, color='#222222', zorder=3)
fig.text(fx(617), hy, 'Tide Markers', ha='left', va='center', fontsize=HDR, color='#222222')
checkbox(759, 53)
fig.text(fx(810), hy, 'Wind', ha='left', va='center', fontsize=HDR, color='#222222')
checkbox(872, 53)
fig.text(fx(922), hy, 'Rain', ha='left', va='center', fontsize=HDR, color='#222222')
checkbox(975, 53)
fig.text(fx(1026), hy, 'Temperature', ha='left', va='center', fontsize=HDR, color='#222222')
checkbox(1164, 53)
box(1215, 43, 1281, 68, '#eeeeee', '#333333', 1.2)
fig.text(fx(1248), fy(56), 'Refresh', ha='center', va='center', fontsize=11,
         color='#111111', zorder=3)

box(0, 0, 12, H, 'black', 'none', 0, 10)
box(0, 0, W, 6, 'black', 'none', 0, 10)
box(1297, 0, 1299, H, '#333333', 'none', 0, 10)
box(1299, 0, W, H, 'white', 'none', 0, 10)

fig.savefig('out.png', dpi=100, facecolor=BG)
